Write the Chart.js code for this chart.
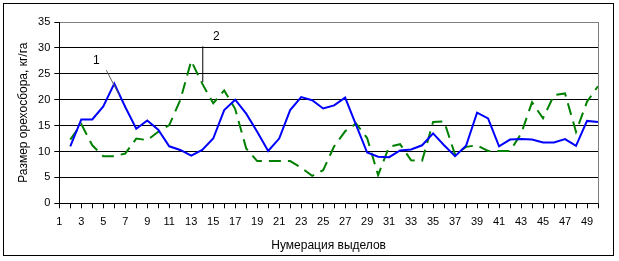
<!DOCTYPE html>
<html>
<head>
<meta charset="utf-8">
<script src="https://cdn.jsdelivr.net/npm/chart.js@4/dist/chart.umd.min.js"></script>
<style>
  html, body { margin: 0; padding: 0; background: #fff; }
  canvas { display: block; }
</style>
</head>
<body>
<canvas id="c" width="619" height="261"></canvas>
<script>
// ---- data ----
const categories = ['1','2','3','4','5','6','7','8','9','10','11','12','13','14','15','16','17','18','19','20','21','22','23','24','25','26','27','28','29','30','31','32','33','34','35','36','37','38','39','40','41','42','43','44','45','46','47','48','49','50'];
const series1 = [null, 11.0, 16.2, 16.2, 18.7, 23.1, 18.6, 14.4, 16.0, 14.2, 11.0, 10.3, 9.2, 10.3, 12.5, 18.0, 20.0, 17.3, 13.8, 10.1, 12.5, 18.0, 20.5, 19.9, 18.3, 18.9, 20.4, 15.1, 9.8, 9.0, 8.9, 10.2, 10.4, 11.2, 13.5, 11.2, 9.1, 11.1, 17.5, 16.4, 11.0, 12.3, 12.4, 12.3, 11.75, 11.75, 12.4, 11.1, 15.9, 15.7];
const series2 = [null, 12.3, 15.3, 11.2, 9.1, 9.1, 9.6, 12.5, 12.2, 13.8, 15.1, 19.9, 27.5, 23.1, 19.3, 21.8, 18.2, 10.6, 8.15, 8.15, 8.15, 8.15, 6.9, 5.3, 6.4, 11.0, 13.9, 15.4, 12.6, 5.45, 10.9, 11.4, 8.3, 8.2, 15.7, 15.8, 9.4, 10.9, 11.2, 10.1, 10.1, 10.1, 13.4, 19.5, 16.4, 20.9, 21.2, 13.8, 19.6, 22.6];
const yTicks = [0, 5, 10, 15, 20, 25, 30, 35];
const yTitle = 'Размер орехосбора, кг/га';
const xTitle = 'Нумерация выделов';
// callouts: label text, label anchor (category index, value), leader line endpoints
const calloutLabels = ['1', '2'];
const calloutText = [[3.37, 27.6], [14.28, 32.2]];
const calloutLine = [[[4.28, 25.7], [5.44, 20.9]], [[13.05, 30.3], [13.05, 23.4]]];

const FONT = '"Liberation Sans", Arial, sans-serif';

const framePlugin = {
  id: 'frame',
  afterDraw(chart) {
    const ctx = chart.ctx;
    const a = chart.chartArea;
    const xs = chart.scales.x, ys = chart.scales.y;
    ctx.save();
    // plot area right border (gray)
    ctx.strokeStyle = '#808080';
    ctx.lineWidth = 1;
    ctx.beginPath();
    ctx.moveTo(Math.round(a.right) + 0.5, a.top);
    ctx.lineTo(Math.round(a.right) + 0.5, a.bottom);
    ctx.stroke();
    // outer frame
    ctx.strokeStyle = '#000';
    ctx.strokeRect(3.5, 3.5, 610, 252);
    // callouts
    ctx.font = '12px ' + FONT;
    ctx.fillStyle = '#000';
    ctx.textAlign = 'center';
    ctx.textBaseline = 'middle';
    calloutLabels.forEach((t, i) => {
      const p = calloutText[i];
      ctx.fillText(t, xs.getPixelForValue(p[0]), ys.getPixelForValue(p[1]));
      const l = calloutLine[i];
      ctx.strokeStyle = i === 0 ? '#606060' : '#000';
      ctx.beginPath();
      ctx.moveTo(xs.getPixelForValue(l[0][0]), ys.getPixelForValue(l[0][1]));
      ctx.lineTo(xs.getPixelForValue(l[1][0]), ys.getPixelForValue(l[1][1]));
      ctx.stroke();
    });
    ctx.restore();
  }
};

new Chart(document.getElementById('c'), {
  type: 'line',
  data: {
    labels: categories,
    datasets: [
      {
        label: '1',
        data: series1,
        borderColor: '#0000FF',
        borderWidth: 2,
        pointRadius: 0,
        tension: 0,
        fill: false
      },
      {
        label: '2',
        data: series2,
        borderColor: '#008000',
        borderWidth: 2,
        borderDash: [12, 7],
        pointRadius: 0,
        tension: 0,
        fill: false
      }
    ]
  },
  options: {
    responsive: false,
    animation: false,
    devicePixelRatio: 1,
    layout: { padding: { top: 22, right: 21, left: 0, bottom: 0 } },
    plugins: { legend: { display: false }, tooltip: { enabled: false } },
    scales: {
      x: {
        type: 'category',
        offset: false,
        afterFit(s) { s.height = 57.7; },
        grid: { display: true, drawOnChartArea: false, drawTicks: true, tickLength: 5, tickColor: '#000', color: '#000' },
        border: { display: true, color: '#000', width: 1 },
        ticks: {
          autoSkip: false,
          maxRotation: 0,
          minRotation: 0,
          padding: 7,
          color: '#000',
          font: { family: FONT, size: 11 },
          callback(v, i) { return (i % 2 === 0) ? categories[i] : ''; }
        },
        title: {
          display: true,
          text: xTitle,
          color: '#000',
          font: { family: FONT, size: 12 },
          padding: { top: 0, bottom: 8 }
        }
      },
      y: {
        min: 0,
        max: 35,
        afterFit(s) { s.width = 59.3; },
        afterBuildTicks(s) { s.ticks = yTicks.map(v => ({ value: v })); },
        grid: {
          color: (c) => (c.tick && c.tick.value === 35) ? '#808080' : '#000',
          tickColor: '#000',
          tickLength: 5,
          drawTicks: true
        },
        border: { display: true, color: '#000', width: 1 },
        ticks: {
          padding: 4,
          color: '#000',
          font: { family: FONT, size: 11 }
        },
        title: {
          display: true,
          text: yTitle,
          color: '#000',
          font: { family: FONT, size: 12 },
          padding: { top: 16, bottom: 0 }
        }
      }
    }
  },
  plugins: [framePlugin]
});
</script>
</body>
</html>
